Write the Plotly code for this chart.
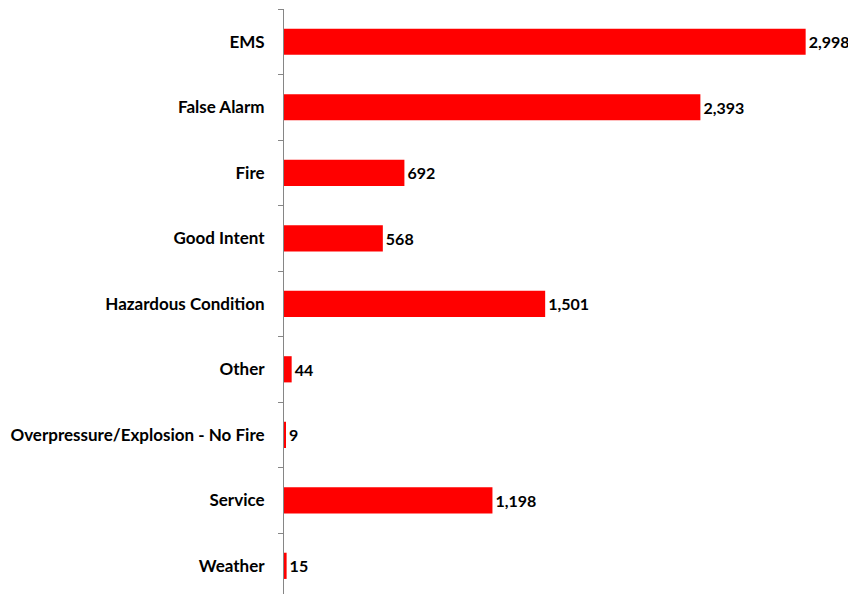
import plotly.graph_objects as go

categories = ["EMS", "False Alarm", "Fire", "Good Intent", "Hazardous Condition",
              "Other", "Overpressure/Explosion - No Fire", "Service", "Weather"]
values = [2998, 2393, 692, 568, 1501, 44, 9, 1198, 15]

fig = go.Figure(go.Bar(
    x=values, y=categories, orientation="h",
    marker=dict(color="#FF0000", line=dict(width=0)),
    width=0.4,
    texttemplate="%{x:,}", textposition="outside",
    textfont=dict(family="Lato", size=16, color="#000000", weight="bold"),
    constraintext="none", cliponaxis=False,
))

fig.update_layout(
    width=848, height=586,
    margin=dict(l=276, r=50, t=1, b=0, autoexpand=False),
    plot_bgcolor="white", paper_bgcolor="white",
    showlegend=False,
    xaxis=dict(range=[0, 3000], visible=False, showgrid=False, zeroline=False,
               automargin=False),
    yaxis=dict(
        type="category", range=[8.43, -0.5], automargin=False,
        showline=True, linecolor="#868686", linewidth=1,
        ticks="outside", ticklen=5, tickcolor="#868686", tickson="boundaries",
        ticklabelstandoff=15,
        tickfont=dict(family="Lato", size=17, color="#000000", weight="bold"),
        showgrid=False, zeroline=False,
    ),
)

fig.write_html("out.html")
